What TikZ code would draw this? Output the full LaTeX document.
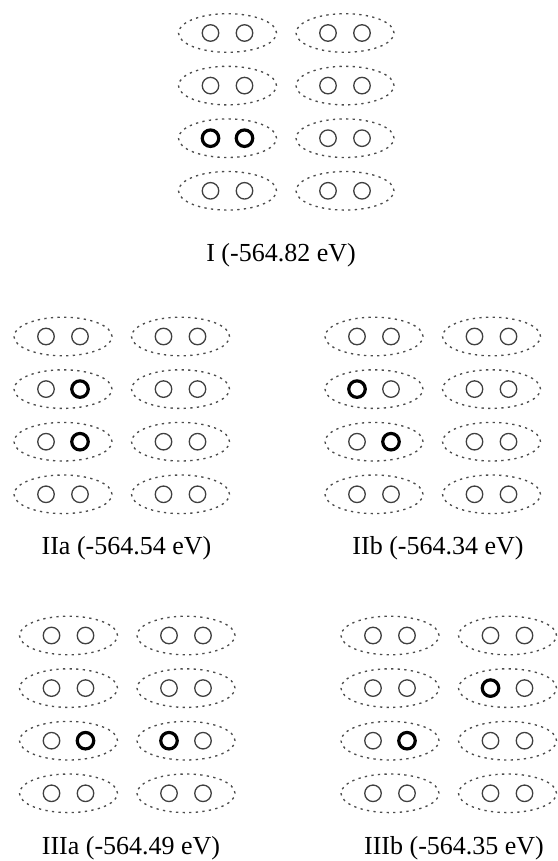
\documentclass[tikz,border=0pt]{standalone}
\usepackage{fontspec}
\setmainfont{Liberation Serif}
\usetikzlibrary{shapes.geometric}
\tikzset{
  pairell/.style={ellipse, draw=black!70, line width=1.35pt, dash pattern=on 2.3pt off 4.3pt,
    minimum width=98pt, minimum height=38.6pt, inner sep=0pt},
  atom/.style={circle, minimum size=16.5pt, inner sep=0pt},
  lbl/.style={font=\fontsize{26}{30}\selectfont, inner sep=0pt},
}
% #1 name, #2 x of left column, #3 y of top row, #4 #5 codes of the bold atoms
\newcommand\drawgroup[5]{%
  \foreach \r in {0,...,3}{%
    \foreach \c in {0,1}{%
      \node[pairell] (#1-\r-\c) at ({#2+\c*117.5},{#3-\r*52.6}) {};
      \foreach \s in {0,1}{%
        \pgfmathtruncatemacro\code{\r*4+\c*2+\s}%
        \def\lw{1.3pt}\def\col{black!75}%
        \ifnum\code=#4 \def\lw{3.2pt}\def\col{black}\fi
        \ifnum\code=#5 \def\lw{3.2pt}\def\col{black}\fi
        \pgfmathsetmacro\dx{(\s*2-1)*17}%
        \node[atom, draw=\col, line width=\lw] (#1-\r-\c-\s) at ([xshift=\dx pt]#1-\r-\c.center) {};
      }%
    }%
  }%
}
\begin{document}
\begin{tikzpicture}[x=1pt,y=1pt]
\useasboundingbox (0,0) rectangle (557,-861);
% codes: row*4 + column*2 + side (0 left atom, 1 right atom)
\drawgroup{I}{227.5}{-33}{8}{9}
\node[lbl] (I-lbl) at (281,-255) {I (-564.82 eV)};
\drawgroup{IIa}{63}{-336.5}{5}{9}
\node[lbl] (IIa-lbl) at (126.5,-548) {IIa (-564.54 eV)};
\drawgroup{IIb}{374}{-336.5}{4}{9}
\node[lbl] (IIb-lbl) at (438,-548) {IIb (-564.34 eV)};
\drawgroup{IIIa}{68.5}{-635.5}{9}{10}
\node[lbl] (IIIa-lbl) at (131,-848) {IIIa (-564.49 eV)};
\drawgroup{IIIb}{390}{-635.5}{6}{9}
\node[lbl] (IIIb-lbl) at (454,-848) {IIIb (-564.35 eV)};
\end{tikzpicture}
\end{document}
